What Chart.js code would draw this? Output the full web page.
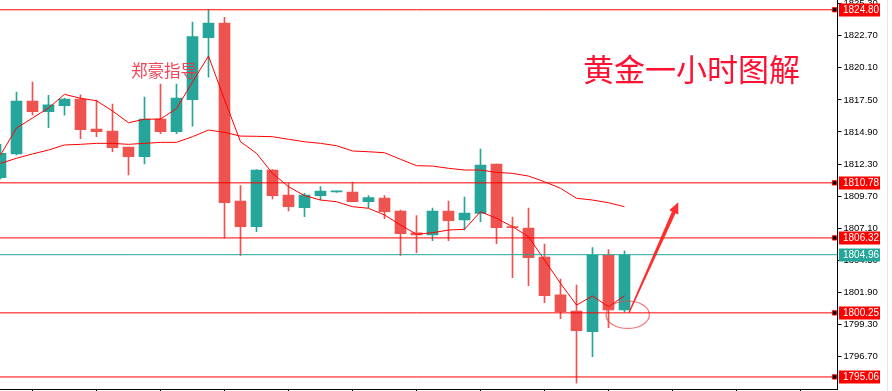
<!DOCTYPE html>
<html>
<head>
<meta charset="utf-8">
<script src="https://cdn.jsdelivr.net/npm/chart.js@4/dist/chart.umd.min.js"></script>
<style>html,body{margin:0;padding:0;background:#fff}</style>
</head>
<body>
<canvas id="c" width="892" height="391"></canvas>
<script>
// gold 1h candles
const opens  = [1811.20,1813.12,1817.41,1816.54,1817.03,1817.57,1815.14,1814.98,1813.68,1812.90,1815.95,1814.92,1817.52,1822.54,1823.73,1809.31,1807.23,1811.82,1809.80,1808.77,1809.74,1810.05,1810.04,1809.25,1809.55,1808.50,1806.74,1806.56,1808.50,1807.77,1808.31,1812.31,1807.20,1807.12,1804.77,1801.72,1800.40,1798.72,1804.93,1800.48];
const closes = [1813.17,1817.41,1816.54,1817.09,1817.57,1815.08,1814.92,1813.63,1812.90,1815.95,1814.92,1817.65,1822.62,1823.73,1809.17,1807.23,1811.82,1809.74,1808.85,1809.80,1810.12,1810.08,1809.25,1809.58,1808.44,1806.66,1806.56,1808.50,1807.71,1808.34,1812.22,1807.15,1807.15,1804.72,1801.64,1800.34,1798.80,1804.93,1800.48,1804.96];
const highs  = [1813.90,1818.14,1818.95,1817.87,1817.65,1817.90,1817.49,1817.17,1813.68,1817.73,1818.79,1818.79,1823.81,1824.80,1824.19,1810.55,1811.85,1811.85,1810.74,1809.93,1810.47,1810.12,1810.85,1809.74,1809.74,1808.58,1808.12,1808.74,1809.31,1809.63,1813.52,1812.31,1808.01,1808.74,1805.83,1802.99,1802.51,1805.53,1805.37,1805.28];
const lows   = [1811.10,1813.04,1816.27,1815.25,1816.27,1814.36,1814.52,1813.30,1811.42,1812.31,1814.76,1814.76,1815.38,1819.35,1806.32,1804.90,1806.82,1809.47,1808.50,1808.04,1809.39,1810.01,1809.25,1808.77,1807.88,1804.91,1805.12,1806.09,1806.09,1806.96,1807.63,1805.85,1803.10,1802.45,1801.07,1799.78,1794.55,1796.70,1799.05,1800.32];
const maFast = [1813.04,1815.22,1816.03,1816.84,1817.95,1817.63,1817.43,1816.60,1815.65,1815.93,1815.95,1816.79,1818.95,1821.05,1817.52,1814.11,1813.17,1811.55,1810.47,1809.75,1809.39,1809.25,1808.85,1808.72,1808.18,1807.37,1806.61,1806.74,1806.96,1807.02,1808.44,1807.91,1807.23,1806.42,1804.53,1802.64,1800.88,1801.61,1800.75,1801.64];
const maSlow = [1812.36,1812.77,1813.12,1813.44,1813.85,1813.90,1813.98,1813.98,1813.90,1813.98,1814.06,1814.06,1814.52,1815.06,1814.87,1814.57,1814.55,1814.52,1814.31,1814.11,1813.98,1813.79,1813.36,1813.30,1813.22,1812.69,1812.17,1812.14,1811.96,1811.82,1811.82,1811.63,1811.55,1811.33,1810.87,1810.34,1809.53,1809.39,1809.17,1808.85];
const levels = [1824.80, 1810.78, 1806.32, 1800.25, 1795.06];
const lastPrice = 1804.96;
const yTicks = [1796.70,1799.30,1801.90,1804.50,1807.10,1809.70,1812.30,1814.90,1817.50,1820.10,1822.70,1825.30];
const xTicks = [2,6,10,14,18,22,26,30,34,38,42,46,50];

const UP = '#26a69a', DOWN = '#ef5350', RED = '#ff0000';
const colors = opens.map((o, i) => closes[i] >= o ? UP : DOWN);

Chart.defaults.font.family = 'Liberation Sans';

const datasets = [];
levels.forEach(v => {
  datasets.push({
    type: 'line', data: [{x: -1, y: v}, {x: 52.125, y: v}],
    borderColor: RED, borderWidth: 1, pointRadius: [0, 3], pointStyle: 'rect',
    pointBackgroundColor: '#000', pointBorderColor: RED, pointBorderWidth: 1, order: 0
  });
});
datasets.push({
  type: 'line', data: [{x: -1, y: lastPrice}, {x: 53, y: lastPrice}],
  borderColor: UP, borderWidth: 1, pointRadius: 0, order: 0
});
datasets.push({
  type: 'line', data: maFast.map((v, i) => ({x: i, y: v})),
  borderColor: RED, borderWidth: 1, pointRadius: 0, tension: 0, order: 1
});
datasets.push({
  type: 'line', data: maSlow.map((v, i) => ({x: i, y: v})),
  borderColor: RED, borderWidth: 1, pointRadius: 0, tension: 0, order: 1
});
datasets.push({
  type: 'bar', data: opens.map((o, i) => ({x: i, y: [o, closes[i]]})),
  backgroundColor: colors, barThickness: 11, grouped: false, minBarLength: 1,
  borderWidth: 0, order: 2
});
datasets.push({
  type: 'bar', data: highs.map((h, i) => ({x: i, y: [lows[i], h]})),
  backgroundColor: colors, barThickness: 1, grouped: false, borderWidth: 0, order: 3
});

const overlay = {
  id: 'overlay',
  afterDraw(chart) {
    const ctx = chart.ctx, xs = chart.scales.x, ys = chart.scales.y;
    const px = v => xs.getPixelForValue(v), py = v => ys.getPixelForValue(v);
    ctx.save();

    // faint right border
    ctx.strokeStyle = '#e4e4e4';
    ctx.lineWidth = 1;
    ctx.beginPath(); ctx.moveTo(887.5, 0); ctx.lineTo(887.5, 391); ctx.stroke();

    // price boxes on the axis
    ctx.font = '10px "Liberation Sans"';
    ctx.textBaseline = 'middle';
    ctx.textAlign = 'left';
    const box = (v, c) => {
      const y = Math.round(py(v));
      ctx.fillStyle = c;
      ctx.fillRect(839, y - 6.5, 41, 13);
      ctx.fillStyle = '#fff';
      ctx.fillText(v.toFixed(2), 843, y + 0.5);
    };
    levels.forEach(v => box(v, RED));
    box(lastPrice, UP);

    // texts
    ctx.fillStyle = 'rgba(238,50,70,0.9)';
    ctx.font = '16.5px "Noto Sans CJK SC"';
    ctx.fillText('郑豪指导', 131, 71);
    ctx.fillStyle = '#ff1030';
    ctx.font = '31px "Noto Sans CJK SC"';
    ctx.fillText('黄金一小时图解', 583, 69);

    // circle round the last candles
    ctx.strokeStyle = 'rgba(235,70,80,0.75)';
    ctx.lineWidth = 1.2;
    ctx.beginPath();
    ctx.ellipse(px(39.2), py(1800.1), 21.7, 13.7, 0, 0, Math.PI * 2);
    ctx.stroke();

    // arrow up
    const tx = px(39.28), ty = py(1800.26), hx = px(42.36), hy = py(1809.2);
    const len = Math.hypot(hx - tx, hy - ty);
    const dx = (hx - tx) / len, dy = (hy - ty) / len, nx = -dy, ny = dx;
    const hl = 11, bx = hx - dx * hl, by = hy - dy * hl;
    ctx.fillStyle = '#ff2d2d';
    ctx.beginPath();
    ctx.moveTo(tx + nx * 0.7, ty + ny * 0.7);
    ctx.lineTo(bx + nx * 2, by + ny * 2);
    ctx.lineTo(bx + nx * 5, by + ny * 5);
    ctx.lineTo(hx, hy);
    ctx.lineTo(bx - nx * 5, by - ny * 5);
    ctx.lineTo(bx - nx * 2, by - ny * 2);
    ctx.lineTo(tx - nx * 0.7, ty - ny * 0.7);
    ctx.closePath();
    ctx.fill();
    ctx.restore();
  }
};

new Chart(document.getElementById('c'), {
  type: 'bar',
  data: { datasets: datasets },
  options: {
    responsive: false,
    animation: false,
    layout: { padding: 0, autoPadding: false },
    plugins: { legend: { display: false }, tooltip: { enabled: false } },
    scales: {
      x: {
        type: 'linear', min: -0.03125, max: 52.3125, offset: false,
        afterBuildTicks: s => { s.ticks = xTicks.map(v => ({value: v})); },
        afterFit: s => { s.height = 2; s.paddingLeft = 0; s.paddingRight = 0; },
        ticks: { display: false },
        grid: { drawOnChartArea: false, drawTicks: true, tickLength: 4, tickColor: '#000', offset: false },
        border: { display: true, color: '#000', width: 1 }
      },
      y: {
        position: 'right', min: 1794.083, max: 1825.591,
        afterBuildTicks: s => { s.ticks = yTicks.map(v => ({value: v})); },
        afterFit: s => { s.width = 54.5; s.paddingTop = 0; s.paddingBottom = 0; },
        ticks: { color: '#000', padding: 2, font: { size: 9.5 }, callback: v => v.toFixed(2), autoSkip: false },
        grid: { drawOnChartArea: false, drawTicks: true, tickLength: 4, tickColor: '#000' },
        border: { display: true, color: '#000', width: 1 }
      }
    }
  },
  plugins: [overlay]
});
</script>
</body>
</html>
